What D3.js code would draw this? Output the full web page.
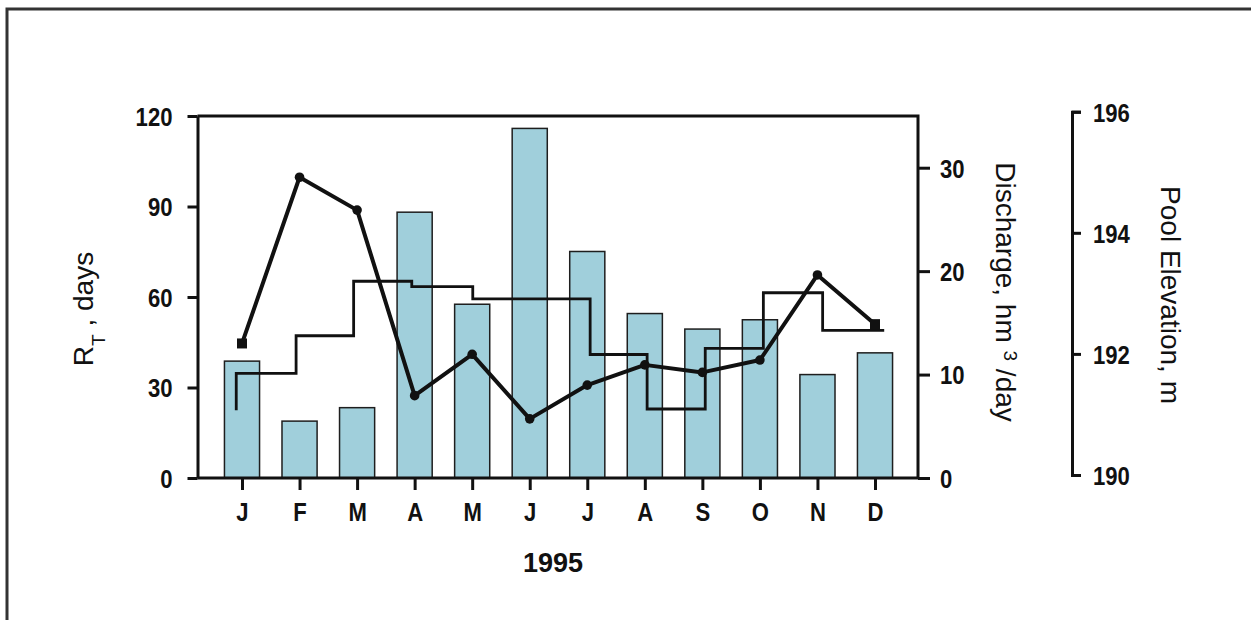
<!DOCTYPE html>
<html>
<head>
<meta charset="utf-8">
<script src="https://cdn.jsdelivr.net/npm/d3@7"></script>
<style>
  html, body { margin: 0; padding: 0; background: #fff; }
  svg { display: block; }
  .tick text { font-family: "Liberation Sans", Arial, sans-serif; font-weight: bold; fill: #111; }
  .title { font-family: "Liberation Sans", Arial, sans-serif; fill: #111; }
</style>
</head>
<body>
<svg id="chart" width="1251" height="620"></svg>
<script>
// Monthly data, 1995
const months = ["J", "F", "M", "A", "M", "J", "J", "A", "S", "O", "N", "D"];
// Discharge, hm3/day (bars)
const discharge = [11.3, 5.5, 6.8, 25.7, 16.8, 33.8, 21.9, 15.9, 14.4, 15.3, 10.0, 12.1];
// Residence time RT, days (line with markers)
const residence = [44.6, 99.7, 88.8, 27.3, 41.0, 19.6, 30.8, 37.5, 35.0, 39.1, 67.3, 51.0];
// Pool elevation, m (step line); time given as month index, 0 = mid-January
const elevTime  = [-0.1, -0.1, 0.94, 1.94, 2.95, 4.01, 6.05, 7.04, 8.05, 9.06, 10.09, 11.16];
const elevation = [191.07, 191.68, 192.30, 193.20, 193.11, 192.91, 191.99, 191.09, 192.09, 193.01, 192.39, 192.39];
// Tick values
const rtTicks = [0, 30, 60, 90, 120];
const qTicks = [0, 10, 20, 30];
const elevTicks = [190, 192, 194, 196];

const svg = d3.select("#chart");
const ink = "#111";

// Page frame
svg.append("path")
  .attr("d", "M7,620 V9 H1251")
  .attr("fill", "none").attr("stroke", "#333").attr("stroke-width", 3);

const plot = { left: 197.5, right: 918, top: 116, bottom: 478 };
const idx = d3.range(months.length);

const x = d3.scalePoint().domain(idx).range([242, 875]);
const xt = d3.scaleLinear().domain([0, 11]).range([242, 875]);
const yRT = d3.scaleLinear().domain([0, 120]).range([plot.bottom, plot.top]);
const yQ = d3.scaleLinear().domain([0, 35]).range([plot.bottom, plot.top]);
const yE = d3.scaleLinear().domain([190, 196]).range([475, 111.7]);

const barW = x.step() * 0.61;

// Bars: discharge
svg.append("g").selectAll("rect")
  .data(idx)
  .join("rect")
  .attr("x", i => x(i) - barW / 2)
  .attr("y", i => yQ(discharge[i]))
  .attr("width", barW)
  .attr("height", i => yQ(0) - yQ(discharge[i]))
  .attr("fill", "#a0cfdb")
  .attr("stroke", "#1e1e1e")
  .attr("stroke-width", 1.5);

// Step line: pool elevation
const stepLine = d3.line()
  .x((d, i) => xt(elevTime[i]))
  .y(d => yE(d))
  .curve(d3.curveStepAfter);
svg.append("path")
  .datum(elevation)
  .attr("d", stepLine)
  .attr("fill", "none")
  .attr("stroke", ink)
  .attr("stroke-width", 2.8)
  .attr("stroke-linejoin", "miter");

// Residence time line with markers
const rtLine = d3.line().x((d, i) => x(i)).y(d => yRT(d));
svg.append("path")
  .datum(residence)
  .attr("d", rtLine)
  .attr("fill", "none")
  .attr("stroke", ink)
  .attr("stroke-width", 4)
  .attr("stroke-linejoin", "round");

const last = residence.length - 1;
svg.append("g").selectAll("circle")
  .data(idx.filter(i => i > 0 && i < last))
  .join("circle")
  .attr("cx", i => x(i))
  .attr("cy", i => yRT(residence[i]))
  .attr("r", 4.8)
  .attr("fill", ink);
svg.append("g").selectAll("rect")
  .data([0, last])
  .join("rect")
  .attr("x", i => x(i) - 5)
  .attr("y", i => yRT(residence[i]) - 5)
  .attr("width", 10).attr("height", 10)
  .attr("fill", ink);

// Plot frame (top and right edges)
svg.append("path")
  .attr("d", `M${plot.left},${plot.top} H${plot.right} V${plot.bottom}`)
  .attr("fill", "none").attr("stroke", ink).attr("stroke-width", 3);

// Axis styling; tick labels are drawn in a condensed bold face
function styleAxis(g) {
  g.selectAll(".domain").attr("stroke", ink).attr("stroke-width", 3);
  g.selectAll(".tick line").attr("stroke", ink).attr("stroke-width", 3);
  g.selectAll(".tick text")
    .style("font-size", "26px")
    .each(function () {
      const w = this.getComputedTextLength();
      d3.select(this).attr("textLength", w * 0.85).attr("lengthAdjust", "spacingAndGlyphs");
    });
}

// Left axis: RT, days
svg.append("g")
  .attr("transform", `translate(${plot.left},0)`)
  .call(d3.axisLeft(yRT).tickValues(rtTicks).tickSize(10).tickSizeOuter(0).tickPadding(15))
  .call(g => g.selectAll(".tick text").attr("dy", "0.36em"))
  .call(styleAxis);

// Bottom axis: months
svg.append("g")
  .attr("transform", `translate(0,${plot.bottom})`)
  .call(d3.axisBottom(x).tickFormat(i => months[i]).tickSize(12).tickSizeOuter(0).tickPadding(13))
  .call(g => g.select(".domain").attr("d", `M${plot.left},0H${plot.right}`))
  .call(styleAxis);

// Right axis: discharge
svg.append("g")
  .attr("transform", `translate(${plot.right},0)`)
  .call(d3.axisRight(yQ).tickValues(qTicks).tickSize(12).tickSizeOuter(0).tickPadding(10))
  .call(g => g.select(".domain").remove())
  .call(g => g.selectAll(".tick text").attr("dy", "0.36em"))
  .call(styleAxis);

// Outer right axis: pool elevation
svg.append("g")
  .attr("transform", "translate(1072,0)")
  .call(d3.axisRight(yE).tickValues(elevTicks).tickFormat(d3.format("d")).tickSize(9).tickSizeOuter(9).tickPadding(12))
  .call(g => g.selectAll(".tick text").attr("dy", "0.36em"))
  .call(styleAxis);

// Axis titles
const rtTitle = svg.append("text").attr("class", "title")
  .attr("transform", "translate(93,309) rotate(-90)")
  .attr("text-anchor", "middle")
  .style("font-size", "28px");
rtTitle.append("tspan").text("R");
rtTitle.append("tspan").attr("dy", 12).style("font-size", "19px").text("T");
rtTitle.append("tspan").attr("dy", -12).text(" , days");

const qTitle = svg.append("text").attr("class", "title")
  .attr("transform", "translate(996,292) rotate(90)")
  .attr("text-anchor", "middle")
  .style("font-size", "28px");
qTitle.append("tspan").text("Discharge, hm ");
qTitle.append("tspan").attr("dy", -8).style("font-size", "19px").text("3");
qTitle.append("tspan").attr("dy", 8).text(" /day");

svg.append("text").attr("class", "title")
  .attr("transform", "translate(1161,295) rotate(90)")
  .attr("text-anchor", "middle")
  .style("font-size", "28px")
  .text("Pool Elevation, m");

svg.append("text").attr("class", "title")
  .attr("x", 553).attr("y", 572)
  .attr("text-anchor", "middle")
  .style("font-size", "27px")
  .style("font-weight", "bold")
  .text("1995");
</script>
</body>
</html>
